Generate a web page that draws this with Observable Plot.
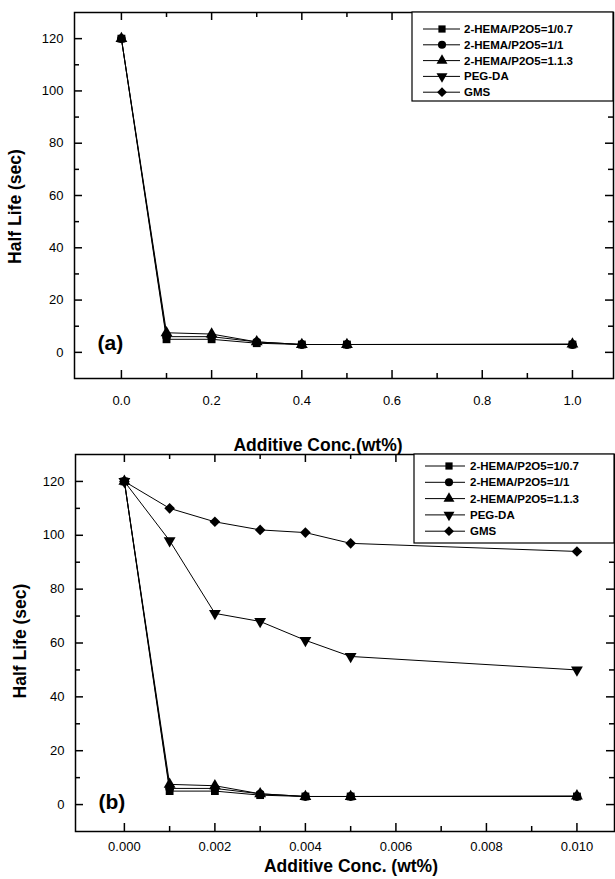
<!DOCTYPE html>
<html><head><meta charset="utf-8">
<script src="https://cdn.jsdelivr.net/npm/d3@7"></script>
<script src="https://cdn.jsdelivr.net/npm/@observablehq/plot@0.6"></script>
<style>
body{margin:0;background:#fff;}
#wrap{position:relative;width:615px;height:879px;overflow:hidden;background:#fff;font-family:"Liberation Sans",Arial,sans-serif;}
.panel{position:relative;width:615px;}
.panel svg{display:block;}
.legend{position:absolute;left:0;top:0;}
</style></head><body><div id="wrap"></div>
<script>
// ---- data ----
const seriesNames = ["2-HEMA/P2O5=1/0.7", "2-HEMA/P2O5=1/1", "2-HEMA/P2O5=1.1.3", "PEG-DA", "GMS"];
const concA = [0, 0.1, 0.2, 0.3, 0.4, 0.5, 1.0];
const concB = [0, 0.001, 0.002, 0.003, 0.004, 0.005, 0.010];
const hema107 = [120, 5, 5, 3.5, 3, 3, 3];
const hema11  = [120, 6, 6, 4, 3, 3, 3];
const hema113 = [120, 7.5, 7, 4, 3, 3, 3.2];
const pegda   = [120, 98, 71, 68, 61, 55, 50];
const gms     = [120, 110, 105, 102, 101, 97, 94];
const yMajor = [0, 20, 40, 60, 80, 100, 120];
const yMinor = [10, 30, 50, 70, 90, 110];
const xMajorA = [0, 0.2, 0.4, 0.6, 0.8, 1.0];
const xMinorA = [0.1, 0.3, 0.5, 0.7, 0.9];
const xMajorB = [0, 0.002, 0.004, 0.006, 0.008, 0.010];
const xMinorB = [0.001, 0.003, 0.005, 0.007, 0.009];
const xTitleA = "Additive Conc.(wt%)";
const xTitleB = "Additive Conc. (wt%)";
const yTitle = "Half Life (sec)";

// ---- symbols ----
const triDown = {draw(ctx, size) {
  const y = -Math.sqrt(size / (Math.sqrt(3) * 3));
  ctx.moveTo(0, -y * 2);
  ctx.lineTo(Math.sqrt(3) * y, y);
  ctx.lineTo(-Math.sqrt(3) * y, y);
  ctx.closePath();
}};
const diamond = {draw(ctx, size) {
  const r = Math.sqrt(size) * 0.68;
  ctx.moveTo(0, -r); ctx.lineTo(r, 0); ctx.lineTo(0, r); ctx.lineTo(-r, 0); ctx.closePath();
}};
const plotSymbols = ["square", "circle", "triangle", triDown, diamond];
const d3Symbols = [d3.symbolSquare, d3.symbolCircle, d3.symbolTriangle, triDown, diamond];

function rows(xs, seriesValues) {
  const out = [];
  seriesValues.forEach((vals, s) => vals.forEach((v, i) => out.push({series: seriesNames[s], si: s, x: xs[i], y: v})));
  return out;
}

const MAJ = 8, MIN = 5;
function makePanel(cfg) {
  const data = rows(cfg.xs, cfg.series);
  const pw = 615 - cfg.ml - cfg.mr;
  const ph = cfg.height - cfg.mt - cfg.mb;
  const tk = {stroke: "black", strokeWidth: 1.5};
  const marks = [
    // inward ticks on all four sides
    Plot.ruleY(yMajor, {y: d => d, insetRight: pw - MAJ, ...tk}),
    Plot.ruleY(yMinor, {y: d => d, insetRight: pw - MIN, ...tk}),
    Plot.ruleY(yMajor, {y: d => d, insetLeft: pw - MAJ, ...tk}),
    Plot.ruleY(yMinor, {y: d => d, insetLeft: pw - MIN, ...tk}),
    Plot.ruleX(cfg.xMajor, {x: d => d, insetTop: ph - MAJ, ...tk}),
    Plot.ruleX(cfg.xMinor, {x: d => d, insetTop: ph - MIN, ...tk}),
    Plot.ruleX(cfg.xMajor, {x: d => d, insetBottom: ph - MAJ, ...tk}),
    Plot.ruleX(cfg.xMinor, {x: d => d, insetBottom: ph - MIN, ...tk}),
    Plot.frame({stroke: "black", strokeWidth: 1.5}),
    Plot.axisY(yMajor, {anchor: "left", tickSize: 0, tickPadding: 11, fontSize: 13, label: null}),
    Plot.axisX(cfg.xMajor, {anchor: "bottom", tickSize: 0, tickPadding: cfg.xPad, fontSize: 13, tickFormat: cfg.fmt, label: null}),
    Plot.line(data, {x: "x", y: "y", z: "series", stroke: "black", strokeWidth: 1}),
  ];
  cfg.series.forEach((vals, s) => {
    marks.push(Plot.dot(data.filter(d => d.si === s), {x: "x", y: "y", symbol: plotSymbols[s], fill: "black", stroke: "none", r: 4.4}));
  });
  marks.push(
    Plot.text([cfg.xTitle], {frameAnchor: "bottom", dx: cfg.xtdx, dy: cfg.xtdy, lineAnchor: "middle", textAnchor: "middle", fontSize: 17.5, fontWeight: "bold"}),
    Plot.text([yTitle], {frameAnchor: "left", rotate: -90, dx: cfg.ytdx, dy: cfg.ytdy, lineAnchor: "middle", textAnchor: "middle", fontSize: 17.5, fontWeight: "bold"}),
    Plot.text([cfg.tag], {frameAnchor: "bottom-left", dx: 23, dy: cfg.tagdy, textAnchor: "start", lineAnchor: "middle", fontSize: 21, fontWeight: "bold"})
  );
  const chart = Plot.plot({
    width: 615, height: cfg.height,
    marginTop: cfg.mt, marginBottom: cfg.mb, marginLeft: cfg.ml, marginRight: cfg.mr,
    x: {domain: cfg.xDomain},
    y: {domain: [-10, 130]},
    style: {fontFamily: "'Liberation Sans', Arial, sans-serif", fontSize: "13px", color: "black", background: "transparent", overflow: "visible"},
    marks
  });
  const div = document.createElement("div");
  div.className = "panel";
  div.style.height = cfg.height + "px";
  div.appendChild(chart);

  // legend
  const lg = cfg.legend;
  const svg = d3.select(div).append("svg").attr("class", "legend").attr("width", 615).attr("height", cfg.height);
  svg.append("rect").attr("x", lg.x0).attr("y", lg.y0).attr("width", lg.x1 - lg.x0).attr("height", lg.y1 - lg.y0)
    .attr("fill", "white").attr("stroke", "black").attr("stroke-width", 1.2);
  seriesNames.forEach((name, i) => {
    const y = lg.first + i * lg.step;
    svg.append("line").attr("x1", lg.l0).attr("x2", lg.l1).attr("y1", y).attr("y2", y).attr("stroke", "black").attr("stroke-width", 1);
    svg.append("path").attr("d", d3.symbol().type(d3Symbols[i]).size(52)()).attr("transform", `translate(${lg.mx},${y})`).attr("fill", "black");
    svg.append("text").attr("x", lg.tx).attr("y", y).attr("dy", "0.35em").attr("font-size", 11.5).attr("font-weight", "bold")
      .attr("font-family", "'Liberation Sans', Arial, sans-serif").text(name);
  });
  return div;
}

const wrap = document.getElementById("wrap");
wrap.appendChild(makePanel({
  xs: concA, series: [hema107, hema11, hema113],
  xMajor: xMajorA, xMinor: xMinorA, fmt: ".1f", xDomain: [-0.104, 1.091],
  height: 452, mt: 12, mb: 74, ml: 74, mr: 2, xPad: 17,
  xTitle: xTitleA, xtdx: -26, xtdy: 67, ytdx: -59, ytdy: 11, tag: "(a)", tagdy: -35,
  legend: {x0: 412, x1: 613, y0: 12, y1: 101, first: 29, step: 15.8, l0: 423, l1: 460, mx: 442, tx: 464}
}));
wrap.appendChild(makePanel({
  xs: concB, series: [hema107, hema11, hema113, pegda, gms],
  xMajor: xMajorB, xMinor: xMinorB, fmt: ".3f", xDomain: [-0.00108, 0.01083],
  height: 427, mt: 2, mb: 48, ml: 75, mr: 1, xPad: 10,
  xTitle: xTitleB, xtdx: 6, xtdy: 35, ytdx: -55, ytdy: -2, tag: "(b)", tagdy: -29,
  legend: {x0: 414, x1: 614, y0: 2, y1: 91, first: 14, step: 16.3, l0: 425, l1: 465, mx: 449, tx: 470}
}));
</script>
</body></html>
